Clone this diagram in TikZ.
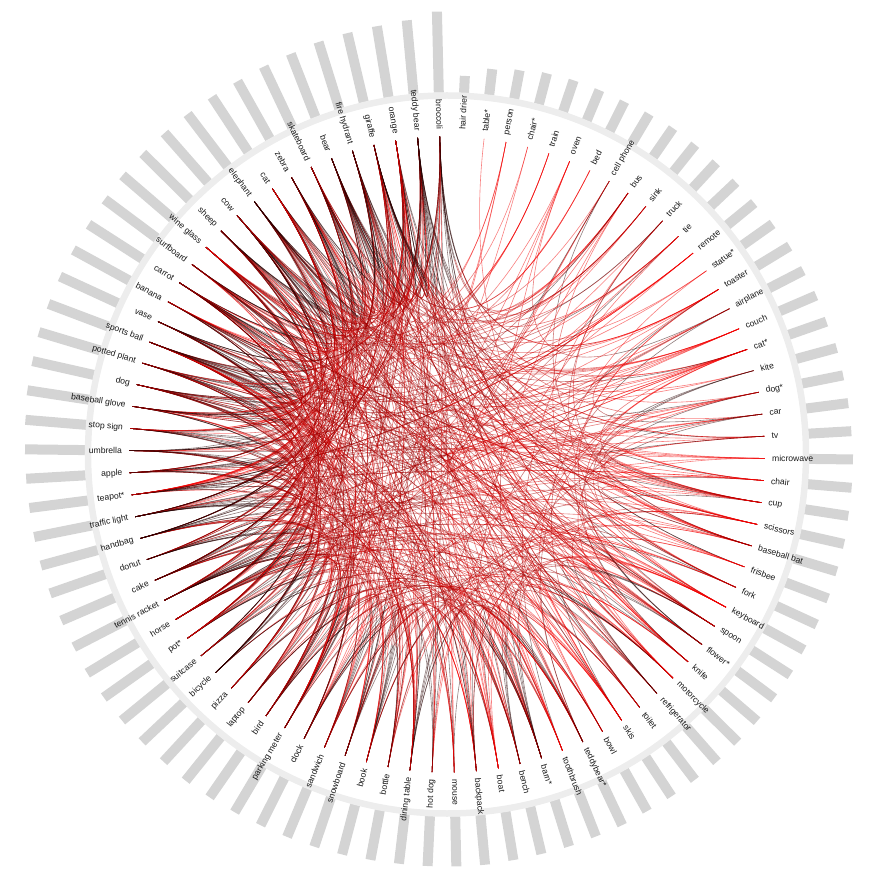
\documentclass[tikz,border=0pt]{standalone}
\usepackage{fontspec}
\setmainfont{Liberation Sans}
\usetikzlibrary{calc}
\colorlet{cg0}{red!15!black}
\colorlet{cg1}{red!62!black}
\colorlet{cg2}{red!82!black}
\colorlet{cg3}{red!95!black}
\begin{document}
\begin{tikzpicture}[x=1pt,y=1pt,
  lbl/.style={font=\fontsize{8.6}{10}\selectfont, inner sep=0pt, text=black!90},
  barline/.style={line width=10pt, draw=black!17},
  ringline/.style={line width=6.5pt, draw=black!7},
  chordline/.style={line width=0.6pt, draw opacity=0.5}]
\useasboundingbox (-447,-428.5) rectangle (425,454.5);
% radial bars
\foreach \L [count=\i] in {17,26,29,32,33,33,33,34,35,35,35,35,35,37,39,39,40,40,42,42,42.5,43,44,44,44,45,45,45.5,45,45,46,46,47,47,47,47,47,47,48,48,48.5,48.5,49,50,50,50,50,50.5,51.5,52,52.5,53,54,55,56,56,57,58,58.5,59,58,58,58.5,59,59,59,59.5,60,61,62.5,63,64,64,64,64,64,65,66,66,66,66,66,66,67,68,70,71,72,74,81}{
  \pgfmathsetmacro\ph{87.3-4*(\i-1)}
  \draw[barline] (\ph:362) -- (\ph:362+\L);
}
% ring
\draw[ringline] (0,0) circle[radius=359];
% labels and chord end points
\foreach \n [count=\i] in {hair drier,table*,person,chair*,train,oven,bed,cell phone,bus,sink,truck,tie,remote,statue*,toaster,airplane,couch,cat*,kite,dog*,car,tv,microwave,chair,cup,scissors,baseball bat,frisbee,fork,keyboard,spoon,flower*,knife,motorcycle,refrigerator,toilet,skis,bowl,teddybear*,toothbrush,barn*,bench,boat,backpack,mouse,hot dog,dining table,bottle,book,snowboard,sandwich,clock,parking meter,bird,laptop,pizza,bicycle,suitcase,pot*,horse,tennis racket,cake,donut,handbag,traffic light,teapot*,apple,umbrella,stop sign,baseball glove,dog,potted plant,sports ball,vase,banana,carrot,surfboard,wine glass,sheep,cow,elephant,cat,zebra,skateboard,bear,fire hydrant,giraffe,orange,teddy bear,broccoli}{
  \pgfmathsetmacro\ph{87.3-4*(\i-1)}
  \coordinate (p\i) at (\ph:318);
  \ifnum\i<46
    \node[lbl,anchor=west,rotate=\ph] (l\i) at (\ph:325) {\n};
  \else
    \node[lbl,anchor=east,rotate=\ph+180] (l\i) at (\ph:325) {\n};
  \fi
}
% chords: black end at the source node, red end at the target node
\pgfmathsetseed{2718}
\foreach \k in {1,...,760}{
  \pgfmathtruncatemacro\ea{min(90,1+floor(90*pow(rnd*0.998+0.001,0.4)))}
  \pgfmathtruncatemacro\eb{min(90,1+floor(90*pow(rnd*0.998+0.001,0.7)))}
  \pgfmathtruncatemacro\eb{\eb==\ea ? mod(\ea+44,90)+1 : \eb}
  \draw[chordline,cg0] (p\ea) .. controls ($.833333*(p\ea)$) and ($.6875*(p\ea)+.0208333*(p\eb)$) .. ($.5625*(p\ea)+.0625*(p\eb)$);
  \draw[chordline,cg1] ($.5625*(p\ea)+.0625*(p\eb)$) .. controls ($.4375*(p\ea)+.1041667*(p\eb)$) and ($.3333333*(p\ea)+.1666667*(p\eb)$) .. ($.25*(p\ea)+.25*(p\eb)$);
  \draw[chordline,cg2] ($.25*(p\ea)+.25*(p\eb)$) .. controls ($.1666667*(p\ea)+.3333333*(p\eb)$) and ($.1041667*(p\ea)+.4375*(p\eb)$) .. ($.0625*(p\ea)+.5625*(p\eb)$);
  \draw[chordline,cg3] ($.0625*(p\ea)+.5625*(p\eb)$) .. controls ($.0208333*(p\ea)+.6875*(p\eb)$) and ($.833333*(p\eb)$) .. (p\eb);
}
\end{tikzpicture}
\end{document}
